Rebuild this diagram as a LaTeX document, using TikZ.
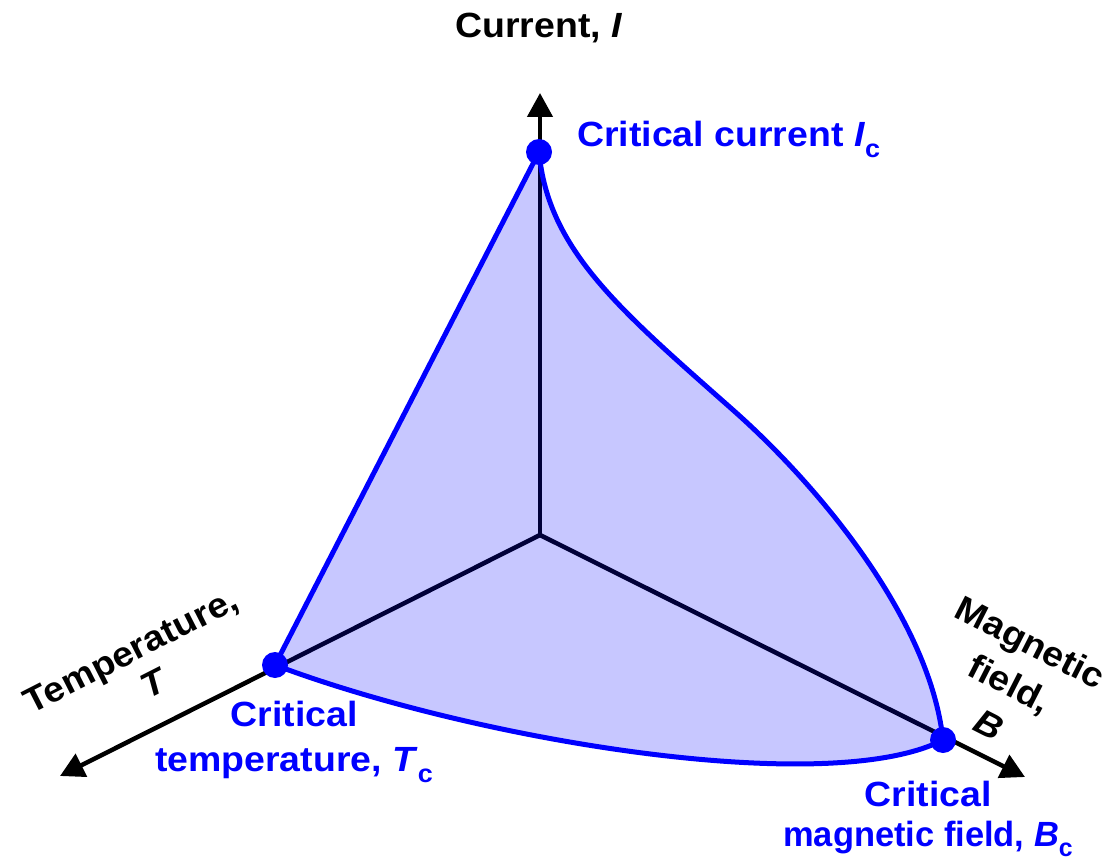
\documentclass[tikz,border=0pt]{standalone}
\usepackage{fontspec}
\setmainfont{Liberation Sans}[FakeStretch=1.07]
\usetikzlibrary{arrows.meta}
\newcommand\subc{\raisebox{-0.3em}{\scalebox{0.72}{c}}}
\begin{document}
\begin{tikzpicture}[x=1pt,y=-1pt,
  axis/.style={line width=4.5pt,-{Triangle[length=24pt,width=25pt]}},
  edge/.style={line width=5pt,blue,line join=round},
  dot/.style={circle,fill=blue,inner sep=0pt,minimum size=26pt},
  blk/.style={font=\fontsize{35}{40}\selectfont\bfseries,align=center,inner sep=0pt},
  blu/.style={font=\fontsize{35}{45}\selectfont\bfseries,text=blue,align=center,inner sep=0pt}]
\useasboundingbox (0,0) rectangle (1112,864);
\coordinate (O) at (540,535);
\coordinate (Ic) at (539,152);
\coordinate (Tc) at (275,665);
\coordinate (Bc) at (943,740);
\coordinate (Mid) at (733,410);
\coordinate (Itip) at (540,93);
\coordinate (Ttip) at (60,776);
\coordinate (Btip) at (1025,777);
% axes
\draw[axis] (O) -- (Itip);
\draw[axis] (O) -- (Ttip);
\draw[axis] (O) -- (Btip);
% surface
\fill[blue,fill opacity=0.22] (Ic) -- (Tc)
  .. controls (480,742) and (830,798) .. (Bc)
  .. controls (930,620) and (820,487) .. (Mid)
  .. controls (620,310) and (548,250) .. (Ic) -- cycle;
\draw[edge] (Ic) -- (Tc) .. controls (480,742) and (830,798) .. (Bc)
  .. controls (930,620) and (820,487) .. (Mid)
  .. controls (620,310) and (548,250) .. (Ic);
% points
\node[dot] (IcDot) at (Ic) {};
\node[dot] (TcDot) at (Tc) {};
\node[dot] (BcDot) at (Bc) {};
% labels
\node[blk] (Ilab) at (539,28) {Current, \textit{I}};
\node[blk,rotate=27] (Tlab) at (140,668) {Temperature,\\\hspace*{12pt}\textit{T}};
\node[blk,rotate=-27,font=\fontsize{35}{46}\selectfont\bfseries] (Blab) at (1010,683) {Magnetic\\field,\\\textit{B}};
\node[blu,anchor=base west] (IcLab) at (577,147) {Critical current \textit{I}\subc};
\node[blu] (TcLab) at (294,742) {Critical\\temperature, \textit{T}\subc};
\node[blu,font=\fontsize{35}{40}\selectfont\bfseries] (BcLab) at (928,819) {Critical\\\scalebox{0.92}[1]{magnetic field, \textit{B}\subc}};
\end{tikzpicture}
\end{document}
